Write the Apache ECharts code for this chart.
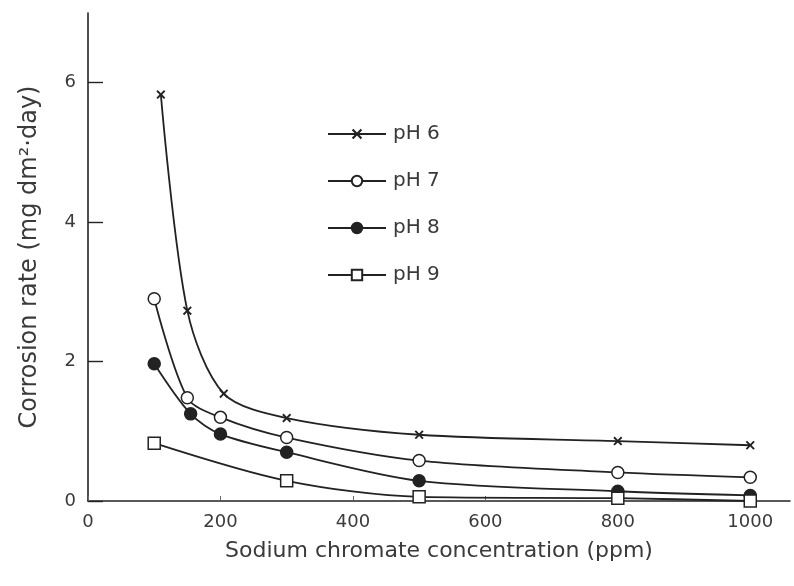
<!DOCTYPE html>
<html>
<head>
<meta charset="utf-8">
<script src="https://cdn.jsdelivr.net/npm/echarts@6/dist/echarts.min.js"></script>
<style>html,body{margin:0;padding:0;background:#fff}#c{width:794px;height:586px}</style>
</head>
<body>
<div id="c"></div>
<script>
const seriesNames = ['pH 6', 'pH 7', 'pH 8', 'pH 9'];
const xTickValues = [0, 200, 400, 600, 800, 1000];
const yTickValues = [0, 2, 4, 6];

const ph6X = [110, 150, 205, 300, 500, 800, 1000];
const ph6Y = [5.83, 2.73, 1.54, 1.19, 0.95, 0.86, 0.80];
const ph7X = [100, 150, 200, 300, 500, 800, 1000];
const ph7Y = [2.90, 1.48, 1.20, 0.91, 0.58, 0.41, 0.34];
const ph8X = [100, 155, 200, 300, 500, 800, 1000];
const ph8Y = [1.97, 1.25, 0.96, 0.70, 0.29, 0.14, 0.08];
const ph9X = [100, 300, 500, 800, 1000];
const ph9Y = [0.83, 0.29, 0.06, 0.04, 0.00];

function pairs(xs, ys) { return xs.map((x, i) => [x, ys[i]]); }

const ink = '#222';
const textInk = '#3a3a3a';
const font = 'DejaVu Sans';
const crossPath = 'path://M1.5,0L5,3.5L8.5,0L10,1.5L6.5,5L10,8.5L8.5,10L5,6.5L1.5,10L0,8.5L3.5,5L0,1.5Z';

function mkSeries(name, data, symbol, fill, size) {
  return {
    name: name,
    type: 'line',
    data: data,
    smooth: 0.3,
    symbol: symbol,
    symbolSize: size,
    showAllSymbol: true,
    lineStyle: { color: ink, width: 1.8 },
    itemStyle: { color: fill, borderColor: ink, borderWidth: symbol === crossPath ? 0 : 1.5 },
    emphasis: { disabled: true },
    z: 2
  };
}

const chart = echarts.init(document.getElementById('c'), null, { renderer: 'canvas' });
chart.setOption({
  backgroundColor: '#fff',
  animation: false,
  grid: { left: 88, right: 4, top: 13, bottom: 85 },
  legend: {
    data: seriesNames,
    orient: 'vertical',
    left: 322,
    top: 119,
    itemWidth: 58,
    itemHeight: 13,
    itemGap: 27,
    textStyle: { fontFamily: font, fontSize: 20, color: textInk, padding: [0, 0, 0, 2] }
  },
  xAxis: {
    type: 'value',
    min: 0,
    max: 1060,
    name: 'Sodium chromate concentration (ppm)',
    nameLocation: 'middle',
    nameGap: 39,
    nameTextStyle: { fontFamily: font, fontSize: 22, color: textInk },
    axisLine: { lineStyle: { color: ink, width: 1.6 } },
    axisTick: { show: true, inside: true, length: 5, customValues: xTickValues, lineStyle: { color: '#666' } },
    axisLabel: { customValues: xTickValues, formatter: v => String(v), fontFamily: font, fontSize: 18, color: textInk, margin: 12 },
    splitLine: { show: false }
  },
  yAxis: {
    type: 'value',
    min: 0,
    max: 7,
    name: 'Corrosion rate (mg dm²·day)',
    nameLocation: 'middle',
    nameGap: 46,
    nameTextStyle: { fontFamily: font, fontSize: 24, color: textInk },
    axisLine: { show: true, lineStyle: { color: ink, width: 1.6 } },
    axisTick: { show: true, inside: true, length: 15, customValues: yTickValues, lineStyle: { color: ink, width: 1.4 } },
    axisLabel: { customValues: yTickValues, formatter: v => String(v), fontFamily: font, fontSize: 18, color: textInk, margin: 12 },
    splitLine: { show: false }
  },
  series: [
    mkSeries(seriesNames[0], pairs(ph6X, ph6Y), crossPath, ink, 9),
    mkSeries(seriesNames[1], pairs(ph7X, ph7Y), 'circle', '#fff', 12),
    mkSeries(seriesNames[2], pairs(ph8X, ph8Y), 'circle', ink, 12),
    mkSeries(seriesNames[3], pairs(ph9X, ph9Y), 'rect', '#fff', 12)
  ]
});
</script>
</body>
</html>
